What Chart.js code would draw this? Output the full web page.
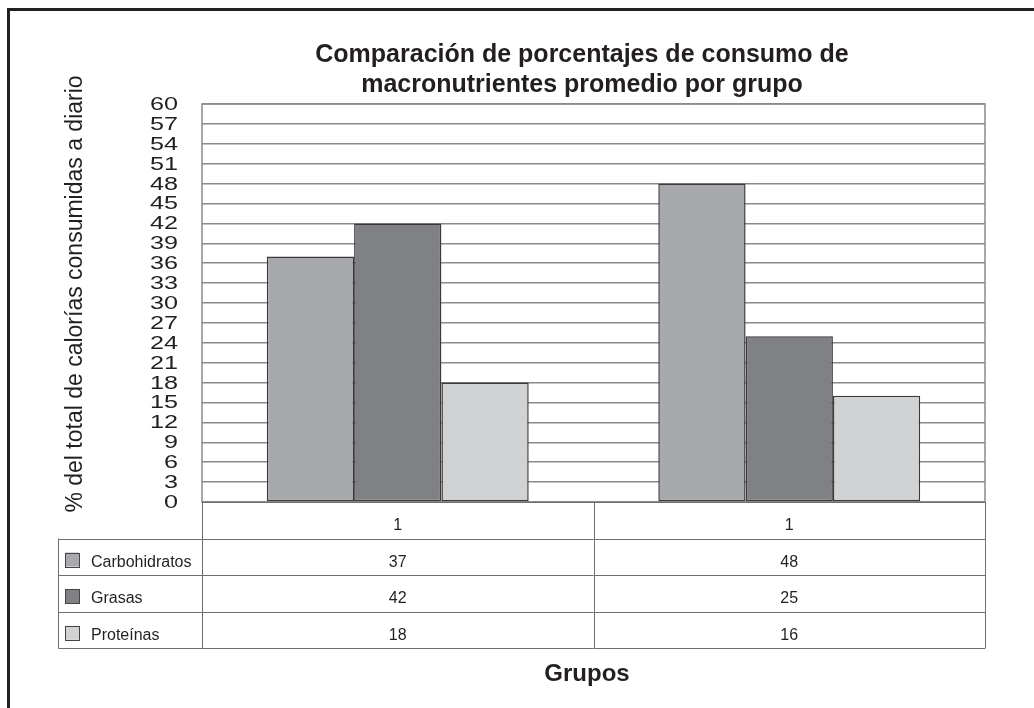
<!DOCTYPE html>
<html>
<head>
<meta charset="utf-8">
<script src="https://cdn.jsdelivr.net/npm/chart.js@4/dist/chart.umd.min.js"></script>
<style>
  html, body { margin: 0; padding: 0; background: #ffffff; }
  #wrap { width: 1034px; height: 708px; }
</style>
</head>
<body>
<div id="wrap"><canvas id="chart" width="1034" height="708"></canvas></div>
<script>
// Groups along the x axis (the header row of the data table)
const categories = ['1', '1'];

// Macronutrient series, % of daily calories
const seriesNames = ['Carbohidratos', 'Grasas', 'Proteínas'];
const carbohidratos = [37, 48];
const grasas = [42, 25];
const proteinas = [18, 16];

// Value axis ticks
const yMin = 0;
const yMax = 60;
const yStep = 3;

const titleLines = ['Comparación de porcentajes de consumo de', 'macronutrientes promedio por grupo'];
const yTitle = '% del total de calorías consumidas a diario';
const xTitle = 'Grupos';

const fillColors = ['#a8a9ad', '#808185', '#d1d2d4'];
const FONT = "'Liberation Sans', Arial, sans-serif";
const INK = '#231f20';

const seriesValues = [carbohidratos, grasas, proteinas];

const datasets = seriesNames.map((name, i) => ({
  label: name,
  data: seriesValues[i],
  backgroundColor: fillColors[i],
  borderColor: '#3a3a3a',
  borderWidth: 1.5,
  borderSkipped: false,
  barPercentage: 1.0,
  categoryPercentage: 0.669
}));

// Draws the frame, titles, tick labels, plot border and the data table under the plot
const decorations = {
  id: 'decorations',
  afterDraw(chart) {
    const ctx = chart.ctx;
    const area = chart.chartArea;
    const xs = chart.scales.x;
    const ys = chart.scales.y;

    ctx.save();

    // outer frame (top and left edges)
    ctx.strokeStyle = '#222';
    ctx.lineWidth = 3;
    ctx.beginPath();
    ctx.moveTo(1034, 9.5);
    ctx.lineTo(8.5, 9.5);
    ctx.lineTo(8.5, 708);
    ctx.stroke();

    // plot border
    ctx.strokeStyle = '#8a8a8a';
    ctx.lineWidth = 1.5;
    ctx.strokeRect(area.left, area.top, area.right - area.left, area.bottom - area.top);

    // title
    ctx.fillStyle = INK;
    ctx.textAlign = 'center';
    ctx.textBaseline = 'alphabetic';
    ctx.font = 'bold 25px ' + FONT;
    ctx.fillText(titleLines[0], 582, 62);
    ctx.fillText(titleLines[1], 582, 92);

    // y axis title
    ctx.save();
    ctx.translate(82, 294);
    ctx.rotate(-Math.PI / 2);
    ctx.font = '23px ' + FONT;
    ctx.textAlign = 'center';
    ctx.textBaseline = 'alphabetic';
    ctx.fillText(yTitle, 0, 0);
    ctx.restore();

    // y tick labels, wide face
    ctx.font = '18px ' + FONT;
    ctx.textAlign = 'right';
    ctx.textBaseline = 'middle';
    ys.ticks.forEach(t => {
      const py = ys.getPixelForValue(t.value);
      ctx.save();
      ctx.translate(178, py + 1);
      ctx.scale(1.4, 1);
      ctx.fillText(String(t.value), 0, 0);
      ctx.restore();
    });

    // data table
    const rowH = 36.6;
    const top = area.bottom;
    const nRows = 1 + seriesNames.length;
    const bounds = [area.left];
    for (let i = 0; i < categories.length - 1; i++) {
      bounds.push((xs.getPixelForValue(i) + xs.getPixelForValue(i + 1)) / 2);
    }
    bounds.push(area.right);

    ctx.strokeStyle = '#6e6e6e';
    ctx.lineWidth = 1;
    ctx.beginPath();
    for (let r = 0; r <= nRows; r++) {
      const y = Math.round(top + r * rowH) + 0.5;
      ctx.moveTo(area.left, y);
      ctx.lineTo(area.right, y);
    }
    bounds.forEach(b => {
      const x = Math.round(b) + 0.5;
      ctx.moveTo(x, top);
      ctx.lineTo(x, top + nRows * rowH);
    });
    // legend column
    const legLeft = 58.5;
    ctx.moveTo(legLeft, top + rowH);
    ctx.lineTo(legLeft, top + nRows * rowH);
    for (let r = 1; r <= nRows; r++) {
      const y = Math.round(top + r * rowH) + 0.5;
      ctx.moveTo(legLeft, y);
      ctx.lineTo(area.left, y);
    }
    ctx.stroke();

    ctx.font = '16px ' + FONT;
    ctx.fillStyle = INK;
    ctx.textAlign = 'center';
    ctx.textBaseline = 'alphabetic';
    categories.forEach((c, i) => {
      ctx.fillText(c, xs.getPixelForValue(i), top + 28);
    });
    seriesValues.forEach((vals, s) => {
      const rowTop = top + (s + 1) * rowH;
      vals.forEach((v, i) => {
        ctx.fillText(String(v), xs.getPixelForValue(i), rowTop + 28);
      });
    });

    // legend entries
    ctx.textAlign = 'left';
    seriesNames.forEach((name, s) => {
      const rowTop = top + (s + 1) * rowH;
      ctx.fillStyle = fillColors[s];
      ctx.fillRect(65, rowTop + 14, 14, 14);
      ctx.strokeStyle = '#444';
      ctx.lineWidth = 1;
      ctx.strokeRect(65.5, Math.round(rowTop + 14) + 0.5, 14, 14);
      ctx.fillStyle = INK;
      ctx.fillText(name, 91, rowTop + 28);
    });

    // x axis title
    ctx.font = 'bold 24px ' + FONT;
    ctx.textAlign = 'center';
    ctx.fillText(xTitle, 587, 681);

    ctx.restore();
  }
};

new Chart(document.getElementById('chart'), {
  type: 'bar',
  data: { labels: categories, datasets },
  options: {
    responsive: false,
    animation: false,
    devicePixelRatio: 1,
    layout: { padding: { left: 0, right: 49, top: 104, bottom: 206 } },
    plugins: {
      legend: { display: false },
      tooltip: { enabled: false },
      title: { display: false }
    },
    scales: {
      x: {
        ticks: { display: false },
        grid: { display: false },
        border: { display: false },
        afterFit(scale) { scale.height = 0; }
      },
      y: {
        min: yMin,
        max: yMax,
        ticks: { display: false, stepSize: yStep },
        grid: { color: '#8a8a8a', lineWidth: 1.5, drawTicks: false },
        border: { display: false },
        afterFit(scale) { scale.width = 202; }
      }
    }
  },
  plugins: [decorations]
});
</script>
</body>
</html>
